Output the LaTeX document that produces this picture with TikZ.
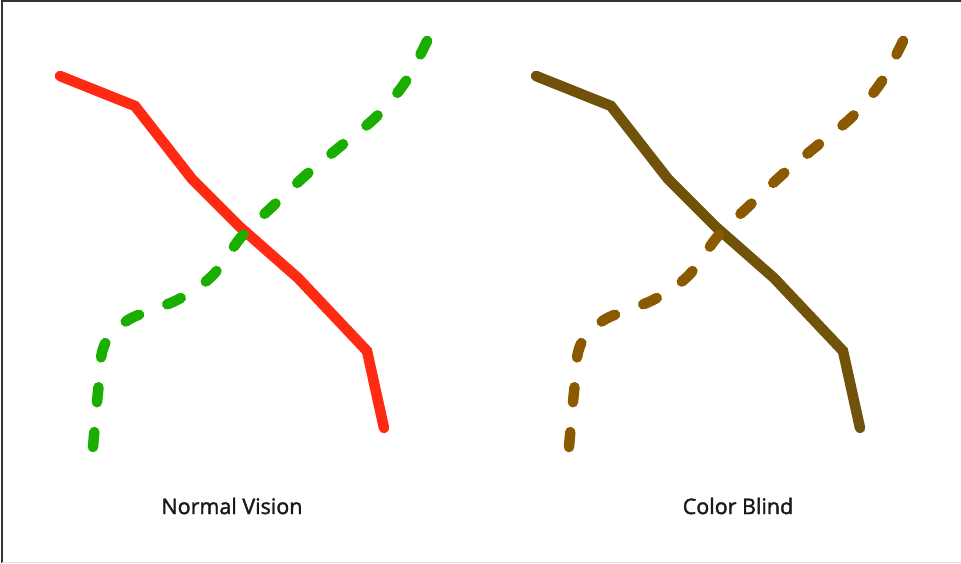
\documentclass[tikz,border=0pt]{standalone}
\usepackage{fontspec}
\newfontfamily\captionfont{Open Sans}[FakeBold=1.6]
\definecolor{redline}{HTML}{FF2A12}
\definecolor{greenline}{HTML}{1AAF00}
\definecolor{brownsolid}{HTML}{70520A}
\definecolor{browndash}{HTML}{8B5A00}
\begin{document}
\begin{tikzpicture}[x=1pt,y=-1pt,
  solidline/.style={line width=10.5pt,line join=miter,line cap=round},
  dashline/.style={line width=10.5pt,line cap=round,dash pattern=on 15pt off 30pt},
  caption/.style={font=\captionfont\fontsize{21.5}{26}\selectfont,text=black!90}]

% Frame
\useasboundingbox (0,0) rectangle (961,563);
\fill[white] (0,0) rectangle (961,563);
\draw[black!80,line width=1.2pt] (2,563) -- (2,1) -- (961,1);
\draw[black!12,line width=1pt] (2,562) -- (961,562);

%%%%%%%%%%%%%%%%%%%%%%%%%%%%%%%%%%%%%%%%%%%%%%%%%%
% Left figure
%%%%%%%%%%%%%%%%%%%%%%%%%%%%%%%%%%%%%%%%%%%%%%%%%%

\begin{scope}

% Solid line
\draw[solidline,redline] (60,76)--(135,106)--(192,179)--(240,227)--(298,278)--(367,351)--(384,428);

% Dashed line
\draw[dashline,greenline] plot[smooth,tension=0.55] coordinates
  {(93,447) (98,392) (104,346) (128,320) (177,300) (212,276) (242,236)
   (274,205) (307,174) (342,145) (377,116) (406,81) (428,39)};

% Label
\node[caption] (normal) at (232,506) {Normal Vision};

\end{scope}

%%%%%%%%%%%%%%%%%%%%%%%%%%%%%%%%%%%%%%%%%%%%%%%%%%
% Right figure
%%%%%%%%%%%%%%%%%%%%%%%%%%%%%%%%%%%%%%%%%%%%%%%%%%

\begin{scope}[xshift=476pt]

% Solid line
\draw[solidline,brownsolid] (60,76)--(135,106)--(192,179)--(240,227)--(298,278)--(367,351)--(384,428);

% Dashed line
\draw[dashline,browndash] plot[smooth,tension=0.55] coordinates
  {(93,447) (98,392) (104,346) (128,320) (177,300) (212,276) (242,236)
   (274,205) (307,174) (342,145) (377,116) (406,81) (428,39)};

% Label
\node[caption] (blind) at (262,506) {Color Blind};

\end{scope}

\end{tikzpicture}
\end{document}
